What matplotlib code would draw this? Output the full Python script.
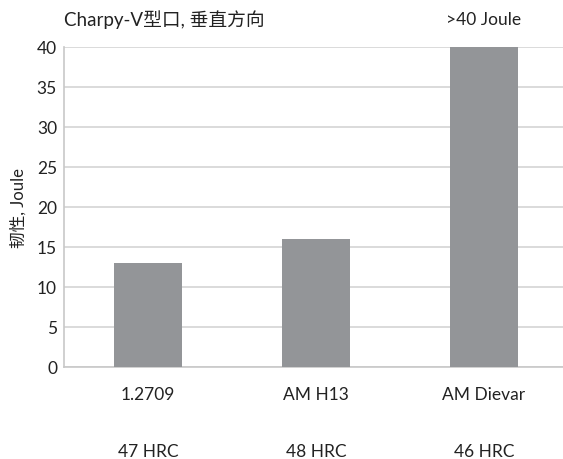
import matplotlib
matplotlib.use("Agg")
import matplotlib.pyplot as plt

plt.rcParams['font.family'] = ['Lato', 'Noto Sans CJK SC', 'DejaVu Sans']

categories = ["1.2709", "AM H13", "AM Dievar"]
hardness = ["47 HRC", "48 HRC", "46 HRC"]
values = [13, 16, 40]
yticks = [0, 5, 10, 15, 20, 25, 30, 35, 40]

fig = plt.figure(figsize=(5.63, 4.60), dpi=100)
ax = fig.add_axes([64/563, 92/460, 499/563, 320/460])

x = list(range(len(categories)))
ax.bar(x, values, width=0.41, color="#939598", zorder=3)
ax.set_xlim(-0.5, 2.47)
ax.set_ylim(0, 40)
ax.set_yticks(yticks)
ax.yaxis.grid(True, color="#d4d4d4", linewidth=1.2, zorder=0)
ax.set_axisbelow(True)
for s in ["top", "right"]:
    ax.spines[s].set_visible(False)
for s in ["left", "bottom"]:
    ax.spines[s].set_color("#c8c8c8")
    ax.spines[s].set_linewidth(1.2)
ax.tick_params(axis='y', length=0, labelsize=12.5, pad=5, colors="#222222")
ax.tick_params(axis='x', length=0, labelsize=12.5, pad=14, colors="#222222")
ax.set_xticks(x)
ax.set_xticklabels(categories)
for xi, h in zip(x, hardness):
    ax.text(xi, -10.5, h, ha='center', va='center', fontsize=12.5, color="#222222")

ax.set_ylabel("韧性, Joule", fontsize=12, color="#222222", labelpad=7)
fig.text(64/563, 1 - 20/460, "Charpy-V型口, 垂直方向", ha='left', va='center', fontsize=13.5, color="#222222")
ax.text(2, 43.5, ">40 Joule", ha='center', va='center', fontsize=12.5, color="#222222")

fig.savefig("out.png", dpi=100)
